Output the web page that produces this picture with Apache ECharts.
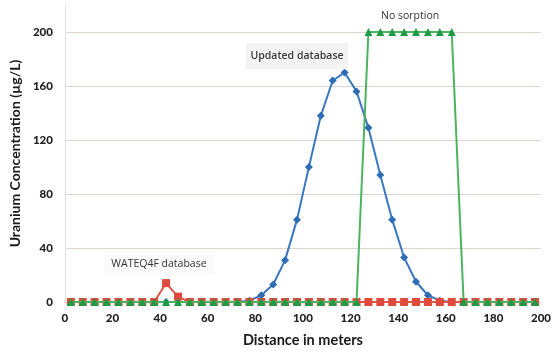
<!DOCTYPE html>
<html>
<head>
<meta charset="utf-8">
<script src="https://cdn.jsdelivr.net/npm/echarts@6/dist/echarts.min.js"></script>
<style>
  html, body { margin: 0; padding: 0; background: #fff; }
  #chart { width: 554px; height: 353px; }
</style>
</head>
<body>
<div id="chart"></div>
<script>
// Sample positions along the flow path (m)
const distance = [2.5, 7.5, 12.5, 17.5, 22.5, 27.5, 32.5, 37.5, 42.5, 47.5,
                  52.5, 57.5, 62.5, 67.5, 72.5, 77.5, 82.5, 87.5, 92.5, 97.5,
                  102.5, 107.5, 112.5, 117.5, 122.5, 127.5, 132.5, 137.5, 142.5, 147.5,
                  152.5, 157.5, 162.5, 167.5, 172.5, 177.5, 182.5, 187.5, 192.5, 197.5];

// Uranium concentration (µg/L) for each model run
const updatedDb = [0, 0, 0, 0, 0, 0, 0, 0, 0, 0,
                   0, 0, 0, 0, 0, 1, 5, 13, 31, 61,
                   100, 138, 164, 170, 156, 129, 94, 61, 33, 15,
                   5, 1, 0, 0, 0, 0, 0, 0, 0, 0];
const wateqDb   = [0, 0, 0, 0, 0, 0, 0, 0, 14, 4,
                   0, 0, 0, 0, 0, 0, 0, 0, 0, 0,
                   0, 0, 0, 0, 0, 0, 0, 0, 0, 0,
                   0, 0, 0, 0, 0, 0, 0, 0, 0, 0];
const noSorption = [0, 0, 0, 0, 0, 0, 0, 0, 0, 0,
                    0, 0, 0, 0, 0, 0, 0, 0, 0, 0,
                    0, 0, 0, 0, 0, 200, 200, 200, 200, 200,
                    200, 200, 200, 0, 0, 0, 0, 0, 0, 0];

// Axis scale settings
const xTicks = { min: 0, max: 200, interval: 20 };
const yTicks = { min: 0, max: 220, interval: 40 };

// Curve annotations: [text, distance, concentration]
const notes = [
  ['Updated database', 97.5, 182],
  ['No sorption', 145, 212],
  ['WATEQ4F database', 39.5, 28]
];

const pairs = (ys) => distance.map((x, i) => [x, ys[i]]);

const chart = echarts.init(document.getElementById('chart'), null, { renderer: 'canvas' });

const noteStyle = {
  fontFamily: 'Open Sans', fontSize: 10.5, color: '#333333'
};

const tickFont = { fontFamily: 'Lato', fontWeight: 900, fontSize: 11.5, color: '#222222' };

chart.setOption({
  animation: false,
  backgroundColor: '#ffffff',
  grid: { left: 60, right: 11, top: 5, bottom: 50, containLabel: false },
  xAxis: {
    type: 'value',
    min: xTicks.min, max: xTicks.max, interval: xTicks.interval,
    name: 'Distance in meters',
    nameLocation: 'middle',
    nameGap: 31,
    nameTextStyle: { fontFamily: 'Lato', fontWeight: 'bold', fontSize: 14.5, color: '#1a1a1a' },
    axisLine: { show: true, lineStyle: { color: '#d4d4d4', width: 1 } },
    axisTick: { show: false },
    axisLabel: { ...tickFont, margin: 10 },
    splitLine: { show: false }
  },
  yAxis: {
    type: 'value',
    min: yTicks.min, max: yTicks.max, interval: yTicks.interval,
    name: 'Uranium Concentration (µg/L)',
    nameLocation: 'middle',
    nameGap: 42,
    nameRotate: 90,
    nameTextStyle: { fontFamily: 'Lato', fontWeight: 'bold', fontSize: 14, color: '#1a1a1a' },
    axisLine: { show: true, lineStyle: { color: '#e0e0e0', width: 1 } },
    axisTick: { show: false },
    axisLabel: { ...tickFont, margin: 12, showMaxLabel: false },
    splitLine: { show: true, showMinLine: false, showMaxLine: false, lineStyle: { color: '#ddd3cf', width: 1 } }
  },
  series: [
    {
      name: 'Updated database',
      type: 'line',
      data: pairs(updatedDb),
      symbol: 'diamond',
      symbolSize: 8,
      itemStyle: { color: '#2e6db4' },
      lineStyle: { color: '#3b78c0', width: 2 },
      z: 2,
      markPoint: {
        symbol: 'rect', symbolSize: [102, 26],
        itemStyle: { color: '#f3f3f3' },
        label: { show: true, ...noteStyle, fontWeight: 600, color: '#3a3a3a', formatter: notes[0][0] },
        data: [{ coord: [notes[0][1], notes[0][2]] }]
      }
    },
    {
      name: 'WATEQ4F database',
      type: 'line',
      data: pairs(wateqDb),
      symbol: 'rect',
      symbolSize: 8,
      itemStyle: { color: '#df4a3c' },
      lineStyle: { color: '#e0584a', width: 2 },
      z: 3,
      markPoint: {
        symbol: 'rect', symbolSize: [110, 20],
        itemStyle: { color: '#fafafa' },
        label: { show: true, ...noteStyle, formatter: notes[2][0] },
        data: [{ coord: [notes[2][1], notes[2][2]] }]
      }
    },
    {
      name: 'No sorption',
      type: 'line',
      data: pairs(noSorption),
      symbol: 'triangle',
      symbolSize: 8,
      itemStyle: { color: '#1f9a45' },
      lineStyle: { color: '#4cb361', width: 2 },
      z: 4,
      markPoint: {
        symbol: 'rect', symbolSize: [1, 1],
        itemStyle: { color: 'rgba(0,0,0,0)' },
        label: { show: true, ...noteStyle, formatter: notes[1][0] },
        data: [{ coord: [notes[1][1], notes[1][2]] }]
      }
    }
  ]
});
</script>
</body>
</html>
